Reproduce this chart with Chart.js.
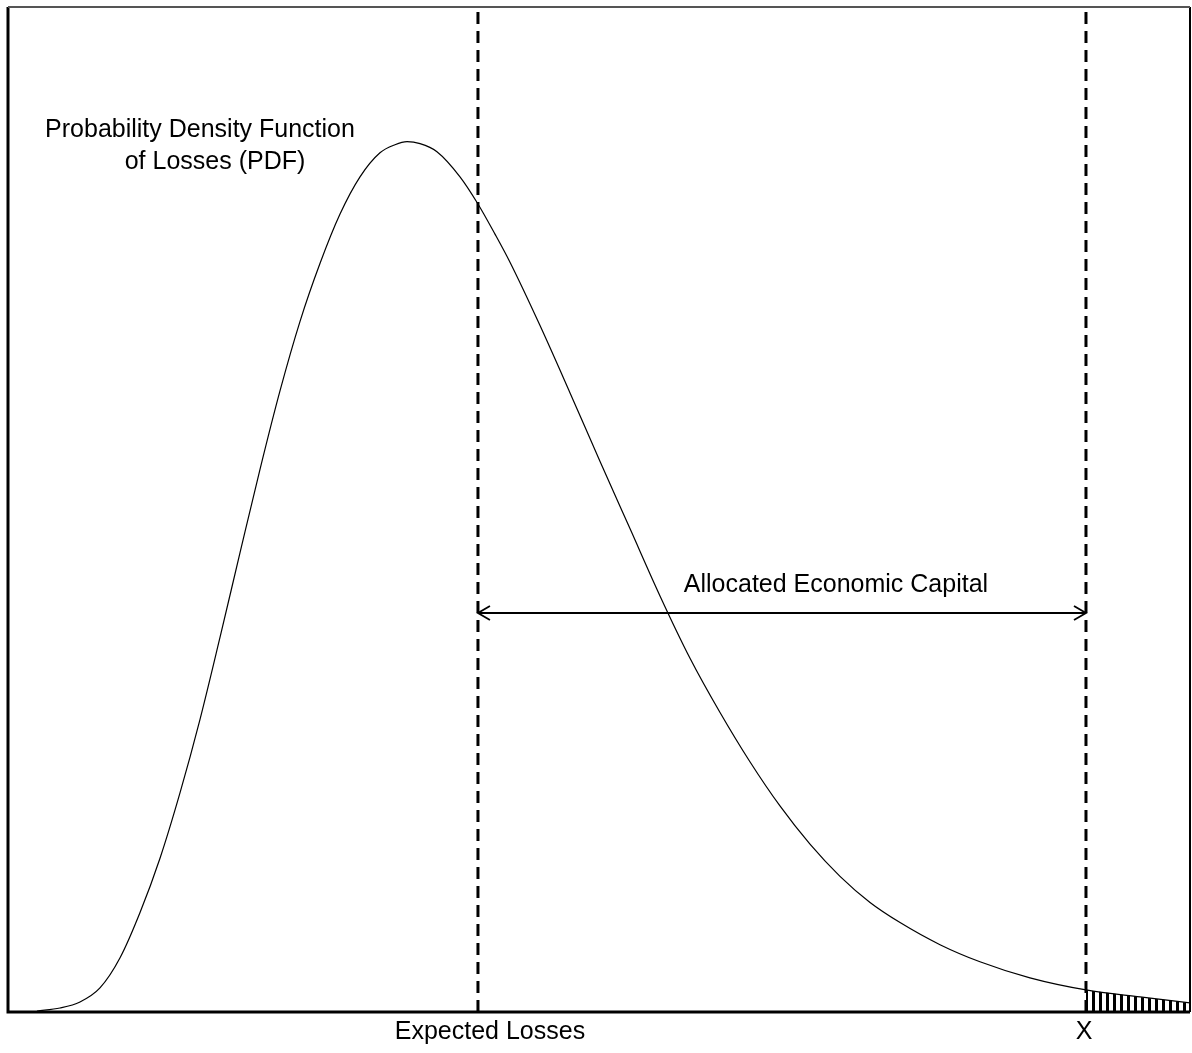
<!DOCTYPE html>
<html>
<head>
<meta charset="utf-8">
<script src="https://cdn.jsdelivr.net/npm/chart.js@4"></script>
<style>
  html, body { margin: 0; padding: 0; background: #fff; }
  #wrap { width: 1192px; height: 1053px; position: relative; }
</style>
</head>
<body>
<div id="wrap"><canvas id="pdfChart"></canvas></div>
<script>
// losses (0..100) and density (0..100)
const lossX = [2.45, 4.40, 6.09, 7.78, 9.48, 11.17, 12.86, 14.55, 16.24, 17.94, 19.63, 21.32, 23.01, 24.70, 26.40, 28.09, 29.78, 31.47, 32.74, 33.76, 34.86, 36.29, 38.24, 39.76, 41.20, 42.47, 45.01, 47.55, 50.08, 52.62, 55.16, 57.70, 60.24, 62.77, 65.31, 67.85, 70.39, 72.93, 75.47, 78.85, 82.23, 86.46, 91.20, 95.77, 100];
const density = [0.1, 0.4, 1.0, 2.4, 5.4, 9.9, 15.3, 21.8, 29.1, 37.3, 45.7, 54.0, 61.8, 68.7, 74.5, 79.4, 83.1, 85.5, 86.3, 86.6, 86.4, 85.6, 83.1, 80.4, 77.4, 74.6, 68.3, 61.6, 54.8, 48.1, 41.4, 35.2, 29.8, 24.9, 20.5, 16.7, 13.5, 10.9, 8.9, 6.7, 5.0, 3.4, 2.2, 1.5, 0.9];

const expectedLoss = 39.76;
const capitalLimit = 91.2;
const arrowLevel = 39.7;

const labelsTop = ["Probability Density Function", "of Losses (PDF)"];
const arrowLabel = "Allocated Economic Capital";
const bottomLabels = ["Expected Losses", "X"];

const curve = lossX.map((x, i) => ({ x, y: density[i] }));
const tail = curve.filter(p => p.x >= capitalLimit);

// vertical stripes for the tail beyond X
function stripes() {
  const c = document.createElement("canvas");
  c.width = 7; c.height = 7;
  const g = c.getContext("2d");
  g.fillStyle = "#000";
  g.fillRect(0, 0, 3, 7);
  return g.createPattern(c, "repeat");
}

const annotations = {
  id: "annotations",
  afterDatasetsDraw(chart) {
    const { ctx, chartArea: a, scales: { x, y } } = chart;
    ctx.save();
    // frame
    ctx.strokeStyle = "#000";
    ctx.lineWidth = 3;
    ctx.beginPath();
    ctx.moveTo(a.left, a.top); ctx.lineTo(a.left, a.bottom);
    ctx.lineTo(a.right, a.bottom); ctx.stroke();
    ctx.lineWidth = 2;
    ctx.beginPath();
    ctx.moveTo(a.right, a.bottom); ctx.lineTo(a.right, a.top); ctx.stroke();
    ctx.strokeStyle = "#555";
    ctx.beginPath();
    ctx.moveTo(a.left, a.top); ctx.lineTo(a.right, a.top); ctx.stroke();

    // arrow heads
    const yA = y.getPixelForValue(arrowLevel);
    const x1 = x.getPixelForValue(expectedLoss);
    const x2 = x.getPixelForValue(capitalLimit);
    ctx.strokeStyle = "#000";
    ctx.lineWidth = 1.8;
    ctx.beginPath();
    ctx.moveTo(x1 + 12, yA - 7); ctx.lineTo(x1, yA); ctx.lineTo(x1 + 12, yA + 7);
    ctx.moveTo(x2 - 12, yA - 7); ctx.lineTo(x2, yA); ctx.lineTo(x2 - 12, yA + 7);
    ctx.stroke();

    // texts
    ctx.fillStyle = "#000";
    ctx.font = "25px 'Liberation Sans', Arial, sans-serif";
    ctx.textAlign = "center";
    ctx.textBaseline = "middle";
    ctx.fillText(labelsTop[0], 200, 130);
    ctx.fillText(labelsTop[1], 215, 162);
    ctx.fillText(arrowLabel, (x1 + x2) / 2 + 54, yA - 28);
    ctx.fillText(bottomLabels[0], x1 + 12, a.bottom + 20);
    ctx.fillText(bottomLabels[1], x2 - 2, a.bottom + 20);
    ctx.restore();
  }
};

new Chart(document.getElementById("pdfChart"), {
  type: "scatter",
  data: {
    datasets: [
      {
        data: tail,
        showLine: true,
        borderWidth: 0,
        borderColor: "rgba(0,0,0,0)",
        backgroundColor: stripes(),
        fill: "origin",
        pointRadius: 0,
        cubicInterpolationMode: "monotone"
      },
      {
        data: curve,
        showLine: true,
        borderColor: "#000",
        borderWidth: 1.2,
        pointRadius: 0,
        cubicInterpolationMode: "monotone"
      },
      {
        data: [{ x: expectedLoss, y: 0 }, { x: expectedLoss, y: 100 }],
        showLine: true,
        borderColor: "#000",
        borderWidth: 3,
        borderDash: [12, 7],
        pointRadius: 0
      },
      {
        data: [{ x: capitalLimit, y: 0 }, { x: capitalLimit, y: 100 }],
        showLine: true,
        borderColor: "#000",
        borderWidth: 3,
        borderDash: [12, 7],
        pointRadius: 0
      },
      {
        data: [{ x: expectedLoss, y: arrowLevel }, { x: capitalLimit, y: arrowLevel }],
        showLine: true,
        borderColor: "#000",
        borderWidth: 1.8,
        pointRadius: 0
      }
    ]
  },
  options: {
    responsive: true,
    maintainAspectRatio: false,
    animation: false,
    layout: { padding: { left: 8, top: 7, right: 2, bottom: 41 } },
    plugins: { legend: { display: false }, tooltip: { enabled: false } },
    scales: {
      x: { type: "linear", min: 0, max: 100, display: false },
      y: { type: "linear", min: 0, max: 100, display: false }
    }
  },
  plugins: [annotations]
});
</script>
</body>
</html>
